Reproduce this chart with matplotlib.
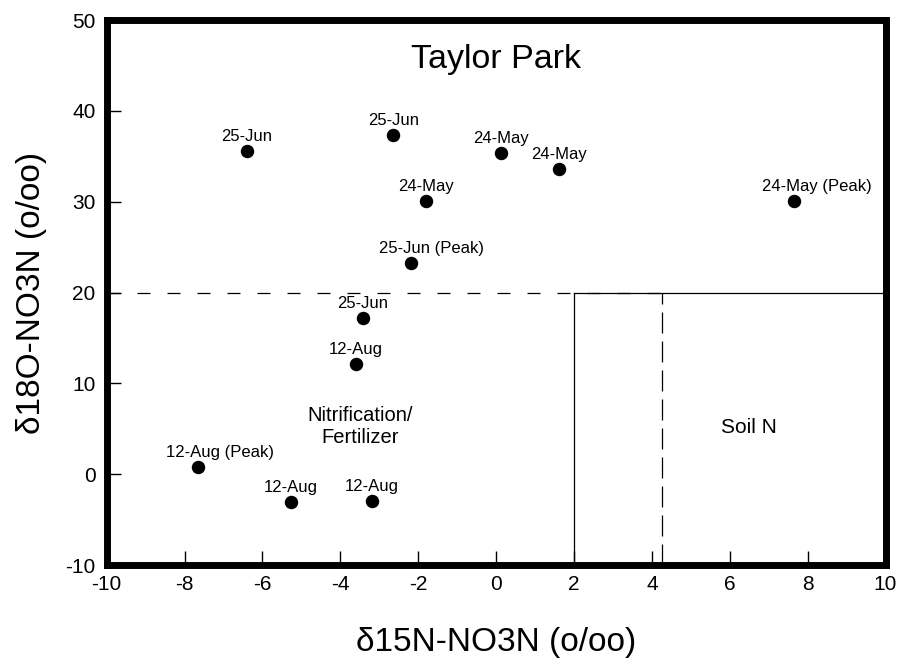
import matplotlib.pyplot as plt

plt.rcParams['font.family'] = ['Liberation Sans', 'DejaVu Sans']
plt.rcParams['axes.unicode_minus'] = False

# isotope data
d15n = [-6.40, -2.64, 0.12, 1.61, -1.80, 7.65, -2.19, -3.42, -3.60, -7.65, -5.27, -3.19]
d18o = [35.6, 37.3, 35.4, 33.6, 30.1, 30.1, 23.3, 17.2, 12.1, 0.8, -3.1, -2.9]
dates = ['25-Jun', '25-Jun', '24-May', '24-May', '24-May', '24-May',
         '25-Jun', '25-Jun', '12-Aug', '12-Aug', '12-Aug', '12-Aug']
peak = [False, False, False, False, False, True, True, False, False, True, False, False]

# source-box limits
nit_top = 20
soil_left = 2
soil_left_dash = 4.25

fig = plt.figure(figsize=(8.99, 6.63), dpi=100)
ax = fig.add_axes([0.1187, 0.1478, 0.8663, 0.822])

ax.scatter(d15n, d18o, s=75, color='black', zorder=3)
for x, y, lab, pk in zip(d15n, d18o, dates, peak):
    if pk:
        ax.annotate(lab + ' (Peak)', (x, y), xytext=(-23, 5), textcoords='offset points',
                    ha='left', va='bottom', fontsize=12)
    else:
        ax.annotate(lab, (x, y), xytext=(0, 5), textcoords='offset points',
                    ha='center', va='bottom', fontsize=12)

# region boundaries
ax.plot([-10, soil_left_dash], [nit_top, nit_top], color='black', lw=0.9, ls=(0, (10.4, 13.6)))
ax.plot([soil_left_dash, soil_left_dash], [-10, nit_top], color='black', lw=0.9, ls=(0, (16.8, 6.4)))
ax.plot([soil_left, 10], [nit_top, nit_top], color='black', lw=0.9)
ax.plot([soil_left, soil_left], [-10, nit_top], color='black', lw=0.9)

ax.text(0.0, 45.6, 'Taylor Park', ha='center', va='center', fontsize=24.5)
ax.text(-3.5, 5.2, 'Nitrification/\nFertilizer', ha='center', va='center', fontsize=14.5,
        linespacing=1.2)
ax.text(6.5, 5.1, 'Soil N', ha='center', va='center', fontsize=15)

ax.set_xlim(-10, 10)
ax.set_ylim(-10, 50)
ax.set_xticks(range(-10, 11, 2))
ax.set_yticks(range(-10, 51, 10))
ax.tick_params(direction='in', length=10, width=1, labelsize=15, pad=8)
ax.tick_params(axis='x', pad=7)
for s in ax.spines.values():
    s.set_linewidth(5)

ax.set_xlabel('\u03b415N-NO3N (o/oo)', fontsize=24, labelpad=24)
ax.set_ylabel('\u03b418O-NO3N (o/oo)', fontsize=24, labelpad=13)

fig.savefig('out.png', dpi=100)
